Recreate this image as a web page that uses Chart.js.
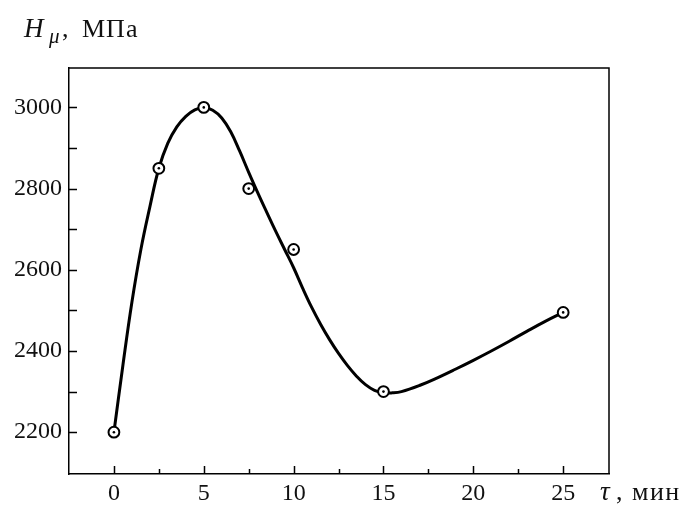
<!DOCTYPE html>
<html>
<head>
<meta charset="utf-8">
<script src="https://cdn.jsdelivr.net/npm/chart.js@4"></script>
<style>
  body { margin: 0; background: #fff; }
  #wrap { width: 692px; height: 507px; }
</style>
</head>
<body>
<div id="wrap"><canvas id="chart-hv" width="692" height="507"></canvas></div>
<script>
// measured points (tau, min -> H mu, MPa)
const tauMarks = [0, 2.5, 5, 7.5, 10, 15, 25];
const hvMarks = [2200, 2850, 3000, 2800, 2650, 2300, 2495];

// fitted curve
const tauCurve = [0, 0.5, 1, 1.5, 2, 2.5, 3, 3.5, 4, 4.5, 5, 5.5, 6, 6.5, 7, 7.5, 8, 8.5, 9, 9.5, 10,
    10.5, 11, 11.5, 12, 12.5, 13, 13.5, 14, 14.5, 15, 15.5, 16, 17, 18, 19, 20, 21, 22, 23, 24, 25];
const hvCurve = [2200, 2365, 2520, 2650, 2755, 2850, 2912, 2952, 2978, 2994, 3000, 2993, 2974, 2940, 2892, 2840, 2790, 2742, 2695, 2650, 2605,
    2555, 2508, 2466, 2428, 2394, 2364, 2338, 2317, 2303, 2297, 2297, 2300, 2315, 2334, 2355, 2377, 2400, 2424, 2449, 2473, 2495];

const xTicks = [0, 2.5, 5, 7.5, 10, 12.5, 15, 17.5, 20, 22.5, 25];
const xLabels = [0, 5, 10, 15, 20, 25];
const yTicks = [2200, 2300, 2400, 2500, 2600, 2700, 2800, 2900, 3000];
const yLabels = [2200, 2400, 2600, 2800, 3000];

const serif = "'Liberation Serif', 'DejaVu Serif', serif";

const frame = {
    id: "frame",
    afterDraw(chart) {
        const { ctx, chartArea: a, scales } = chart;
        ctx.save();
        ctx.strokeStyle = "#000";
        ctx.lineWidth = 1.5;
        ctx.beginPath();
        ctx.moveTo(a.left, a.top);
        ctx.lineTo(a.right, a.top);
        ctx.lineTo(a.right, a.bottom);
        // inward ticks
        xTicks.forEach((v) => {
            const px = Math.round(scales.x.getPixelForValue(v)) + 0.5;
            const len = xLabels.includes(v) ? 8 : 5;
            ctx.moveTo(px, a.bottom);
            ctx.lineTo(px, a.bottom - len);
        });
        yTicks.forEach((v) => {
            const py = Math.round(scales.y.getPixelForValue(v)) + 0.5;
            ctx.moveTo(a.left, py);
            ctx.lineTo(a.left + 8, py);
        });
        ctx.stroke();

        ctx.fillStyle = "#111";
        ctx.textBaseline = "alphabetic";
        ctx.textAlign = "left";
        // y title
        ctx.font = "italic 27px " + serif;
        ctx.fillText("H", 24, 37);
        ctx.font = "italic 21px " + serif;
        ctx.fillText("μ", 49, 43);
        ctx.font = "26px " + serif;
        ctx.fillText(",", 62, 37);
        ctx.letterSpacing = "1px";
        ctx.fillText("МПа", 82, 37);
        ctx.letterSpacing = "0px";
        // x title
        ctx.font = "italic 27px " + serif;
        ctx.fillText("τ", 600, 500);
        ctx.font = "26px " + serif;
        ctx.fillText(",", 616, 500);
        ctx.letterSpacing = "1.5px";
        ctx.fillText("мин", 632, 500);
        ctx.restore();
    },
};

new Chart(document.getElementById("chart-hv"), {
    type: "scatter",
    data: {
        datasets: [
            {
                label: "dots",
                data: tauMarks.map((t, i) => ({ x: t, y: hvMarks[i] })),
                pointRadius: 1.3,
                pointBackgroundColor: "#000",
                pointBorderWidth: 0,
                showLine: false,
                order: 0,
            },
            {
                label: "marks",
                data: tauMarks.map((t, i) => ({ x: t, y: hvMarks[i] })),
                pointRadius: 5.4,
                pointBackgroundColor: "#fff",
                pointBorderColor: "#000",
                pointBorderWidth: 2,
                showLine: false,
                order: 1,
            },
            {
                label: "curve",
                data: tauCurve.map((t, i) => ({ x: t, y: hvCurve[i] })),
                showLine: true,
                borderColor: "#000",
                borderWidth: 3,
                pointRadius: 0,
                tension: 0.4,
                order: 2,
            },
        ],
    },
    options: {
        responsive: false,
        animation: false,
        layout: { padding: { left: 0, top: 68, right: 83, bottom: 0 } },
        plugins: {
            legend: { display: false },
            tooltip: { enabled: false },
        },
        scales: {
            x: {
                type: "linear",
                min: -2.5,
                max: 27.55,
                afterBuildTicks: (s) => { s.ticks = xTicks.map((v) => ({ value: v })); },
                afterFit: (s) => { s.height = 33; },
                ticks: {
                    color: "#111",
                    padding: 5,
                    maxRotation: 0,
                    autoSkip: false,
                    font: { family: serif, size: 24 },
                    callback: (v) => (xLabels.includes(v) ? String(v) : ""),
                },
                grid: { drawOnChartArea: false, drawTicks: false },
                border: { display: true, color: "#000", width: 1.5 },
            },
            y: {
                type: "linear",
                min: 2097,
                max: 3097,
                afterBuildTicks: (s) => { s.ticks = yTicks.map((v) => ({ value: v })); },
                afterFit: (s) => { s.width = 69; },
                ticks: {
                    color: "#111",
                    padding: 7,
                    autoSkip: false,
                    font: { family: serif, size: 24 },
                    callback: (v) => (yLabels.includes(v) ? String(v) : ""),
                },
                grid: { drawOnChartArea: false, drawTicks: false },
                border: { display: true, color: "#000", width: 1.5 },
            },
        },
    },
    plugins: [frame],
});
</script>
</body>
</html>
